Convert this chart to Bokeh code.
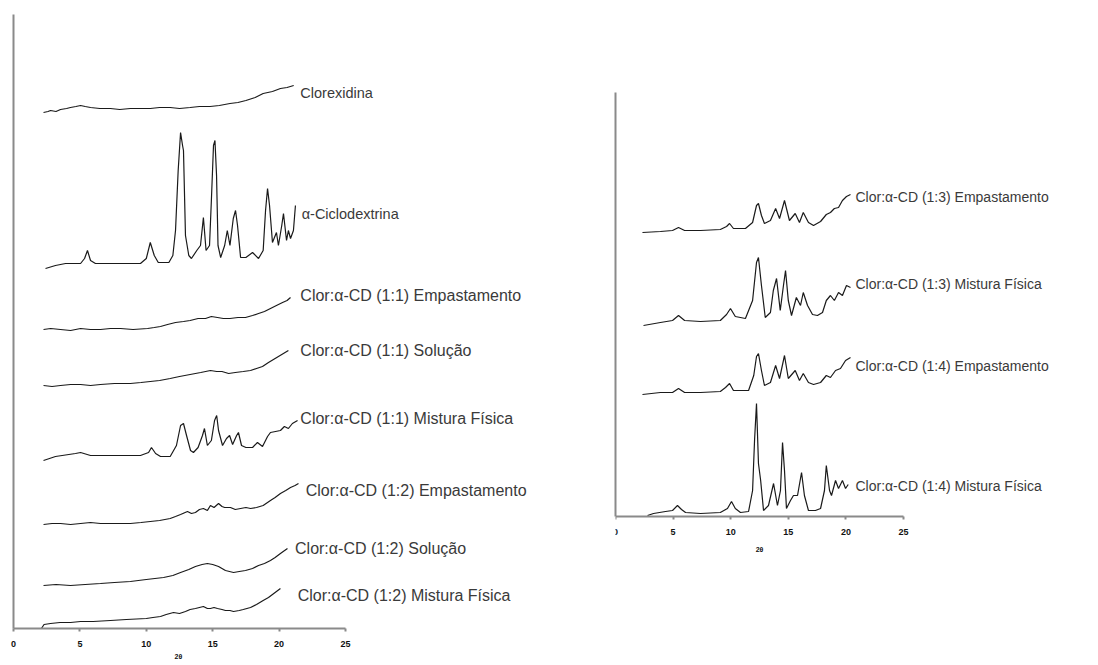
from bokeh.plotting import figure
from bokeh.layouts import row
from bokeh.models import Range1d, LinearAxis, FixedTicker, Label, Title
from bokeh.core.properties import value
from bokeh.embed import file_html
from bokeh.resources import INLINE

# ---------------- data (2theta, relative intensity, stacked) ----------------
# Left panel
clorex_x = [2.26, 2.6, 2.79, 3.2, 3.54, 4.0, 4.29, 4.7, 5.05, 5.4, 5.8, 6.5, 7.3, 8.0, 8.8, 9.5, 10.3, 11.0,
            11.8, 12.5, 13.3, 14.0, 14.8, 15.5, 16.3, 16.9, 17.5, 18.2, 18.8, 19.5, 20.1, 20.6, 21.1]
clorex_y = [516, 517, 518, 517, 519, 520, 521, 522, 523, 522, 521, 520, 520, 519, 520, 520, 520, 521,
            521, 520, 521, 522, 522, 523, 525, 526, 528, 531, 535, 537, 540, 541, 543]

acd_x = [2.41, 3.16, 3.92, 5.05, 5.35, 5.57, 5.8, 6.17, 8.06, 9.56, 10.0, 10.3, 10.6, 10.9, 11.7, 12.0,
         12.2, 12.4, 12.58, 12.73, 12.8, 12.95, 13.2, 13.4, 13.8, 14.08, 14.3, 14.5, 14.76, 14.9, 15.06,
         15.17, 15.29, 15.4, 15.6, 15.9, 16.1, 16.3, 16.55, 16.72, 16.87, 17.1, 17.5, 18.0, 18.45, 18.8,
         18.98, 19.13, 19.28, 19.5, 19.8, 19.95, 20.2, 20.33, 20.56, 20.7, 20.86, 21.08, 21.23]
acd_y = [360, 363, 365, 365, 370, 378, 368, 365, 365, 365, 370, 386, 373, 366, 366, 373,
         398, 458, 496, 483, 478, 393, 373, 370, 378, 383, 411, 378, 383, 428, 483,
         488, 453, 383, 371, 383, 398, 383, 410, 418, 403, 371, 371, 376, 370, 378,
         418, 440, 423, 386, 396, 383, 403, 415, 388, 398, 390, 398, 423]

e11_x = [2.26, 2.8, 3.54, 4.3, 5.05, 5.8, 6.55, 7.3, 8.06, 9.0, 10.1, 10.6, 11.07, 11.6, 12.2, 12.8, 13.3,
         13.9, 14.46, 14.9, 15.36, 15.8, 16.3, 16.9, 17.47, 18.0, 18.45, 18.9, 19.35, 19.8, 20.26, 20.6, 20.86]
e11_y = [299, 300, 299, 298, 300, 299, 299, 300, 300, 299, 300, 301, 302, 304, 306, 307, 308,
         310, 310, 312, 311, 310, 310, 311, 311, 313, 315, 317, 320, 323, 326, 328, 331]

s11_x = [2.26, 2.9, 3.54, 4.3, 5.05, 5.8, 6.55, 7.6, 8.8, 9.6, 10.3, 11.0, 11.8, 12.5, 13.3, 14.1, 14.83,
         15.3, 15.7, 16.2, 16.7, 17.3, 17.85, 18.3, 18.75, 19.2, 19.7, 20.2, 20.7]
s11_y = [243, 242, 243, 244, 244, 243, 244, 245, 245, 246, 247, 248, 250, 252, 254, 256, 258,
         257, 257, 255, 256, 257, 258, 260, 262, 266, 270, 274, 278]

m11_x = [2.26, 3.16, 4.67, 5.05, 5.8, 8.06, 9.56, 10.17, 10.39, 10.7, 11.07, 11.8, 12.27, 12.58, 12.8,
         13.03, 13.33, 13.55, 13.9, 14.23, 14.38, 14.6, 14.9, 15.14, 15.3, 15.44, 15.74, 16.04, 16.27,
         16.5, 16.8, 16.94, 17.17, 17.5, 18.0, 18.37, 18.75, 19.13, 19.35, 19.73, 20.1, 20.4, 20.7, 21.0, 21.39]
m11_y = [168, 172, 175, 176, 173, 173, 173, 176, 181, 175, 172, 172, 183, 203, 205,
         193, 178, 176, 181, 193, 200, 183, 188, 208, 213, 198, 183, 190, 193,
         184, 193, 196, 183, 181, 181, 186, 182, 192, 196, 197, 198, 202, 200, 205, 208]

e12_x = [2.26, 2.9, 3.54, 4.3, 5.05, 5.8, 6.55, 7.6, 8.8, 9.6, 10.3, 11.0, 11.8, 12.2, 12.58, 13.1, 13.4,
         13.7, 14.0, 14.3, 14.6, 14.83, 15.1, 15.44, 15.7, 15.9, 16.34, 16.7, 17.1, 17.5, 17.85, 18.3,
         18.8, 19.35, 19.7, 20.1, 20.5, 20.86, 21.2, 21.46]
e12_y = [104, 105, 105, 104, 105, 106, 105, 105, 105, 106, 107, 108, 110, 112, 114, 117, 115,
         116, 119, 120, 118, 123, 121, 125, 122, 121, 121, 119, 120, 121, 120, 121,
         123, 128, 131, 135, 138, 141, 143, 145]

s12_x = [2.26, 3.2, 4.29, 5.4, 6.55, 7.6, 8.8, 10.0, 11.3, 12.0, 12.58, 13.2, 13.7, 14.2, 14.6, 15.0,
         15.44, 15.96, 16.57, 17.0, 17.47, 18.0, 18.45, 18.9, 19.35, 19.7, 20.1, 20.63]
s12_y = [43, 44, 43, 44, 45, 46, 47, 49, 51, 53, 56, 59, 62, 64, 65, 64,
         62, 58, 56, 57, 58, 60, 63, 65, 68, 71, 75, 80]

m12_x = [2.1, 2.3, 2.79, 3.5, 4.3, 5.05, 6.0, 7.3, 8.5, 10.0, 10.5, 11.07, 11.5, 12.05, 12.5, 12.95,
         13.3, 13.7, 14.0, 14.3, 14.6, 14.83, 15.1, 15.36, 15.7, 15.96, 16.3, 16.57, 17.0, 17.3, 17.85,
         18.3, 18.8, 19.2, 19.5, 20.1]
m12_y = [0, 4, 5, 6, 6, 7, 7, 8, 9, 10, 11, 12, 14, 16, 15, 17,
         19, 20, 21, 22, 20, 20, 21, 20, 19, 18, 18, 17, 18, 19, 21,
         24, 28, 31, 34, 40]

# Right panel
e13_x = [2.34, 3.9, 4.95, 5.47, 6.0, 7.38, 9.1, 9.64, 9.9, 10.24, 11.28, 11.9, 12.24, 12.41, 12.67,
         12.93, 13.45, 13.9, 14.24, 14.67, 15.1, 15.6, 15.97, 16.3, 16.75, 17.19, 17.8, 18.3, 18.66,
         19.0, 19.36, 19.7, 20.05, 20.4]
e13_y = [284, 285, 286, 289, 286, 286, 287, 290, 293, 288, 288, 294, 311, 313, 301,
         293, 296, 308, 298, 316, 296, 303, 294, 304, 294, 291, 295, 302, 304,
         308, 309, 316, 320, 322]

m13_x = [2.43, 3.9, 4.95, 5.47, 6.0, 7.38, 9.1, 9.64, 9.98, 10.4, 11.28, 11.9, 12.24, 12.41, 12.67,
         13.0, 13.45, 13.7, 13.98, 14.3, 14.58, 14.76, 15.0, 15.28, 15.7, 16.06, 16.3, 16.67, 17.1,
         17.53, 17.97, 18.3, 18.66, 19.0, 19.36, 19.7, 20.05, 20.4]
m13_y = [191, 194, 196, 201, 196, 195, 196, 202, 208, 200, 198, 216, 254, 259, 231,
         199, 204, 226, 238, 206, 231, 246, 216, 201, 219, 211, 224, 211, 202,
         201, 204, 216, 221, 216, 224, 221, 231, 229]

e14_x = [2.34, 3.9, 4.95, 5.47, 6.0, 7.38, 9.1, 9.55, 9.9, 10.24, 11.55, 12.0, 12.24, 12.41, 12.67,
         12.93, 13.45, 13.9, 14.24, 14.67, 15.0, 15.6, 15.97, 16.3, 16.75, 17.19, 17.8, 18.3, 18.66,
         19.1, 19.53, 19.97, 20.4]
e14_y = [122, 124, 124, 128, 124, 124, 125, 129, 133, 126, 126, 141, 160, 163, 146,
         131, 134, 151, 138, 161, 138, 146, 136, 143, 134, 132, 134, 141, 139,
         146, 148, 156, 159]

m14_x = [2.78, 3.3, 4.34, 4.95, 5.38, 5.73, 6.08, 7.38, 9.1, 9.72, 10.07, 10.4, 10.85, 11.55, 11.9,
         12.07, 12.24, 12.41, 12.6, 12.85, 13.28, 13.72, 14.06, 14.32, 14.5, 14.67, 14.84, 15.19, 15.45,
         15.8, 16.15, 16.4, 16.75, 17.36, 17.8, 18.14, 18.3, 18.58, 18.75, 19.1, 19.36, 19.7, 19.97, 20.2]
m14_y = [1, 3, 5, 6, 11, 7, 4, 3, 4, 8, 15, 8, 4, 5, 26,
         76, 113, 53, 36, 6, 11, 33, 11, 26, 74, 46, 8, 16, 21,
         21, 44, 21, 6, 6, 8, 26, 51, 26, 21, 36, 28, 36, 28, 32]

left_series = [(clorex_x, clorex_y), (acd_x, acd_y), (e11_x, e11_y), (s11_x, s11_y),
               (m11_x, m11_y), (e12_x, e12_y), (s12_x, s12_y), (m12_x, m12_y)]
right_series = [(e13_x, e13_y), (m13_x, m13_y), (e14_x, e14_y), (m14_x, m14_y)]

pure_labels = ["Clorexidina", "\u03b1-Ciclodextrina"]
pure_label_x = [21.6, 21.7]
pure_label_y = [536, 415]

left_labels = ["Clor:\u03b1-CD (1:1) Empastamento", "Clor:\u03b1-CD (1:1) Solução",
               "Clor:\u03b1-CD (1:1) Mistura Física", "Clor:\u03b1-CD (1:2) Empastamento",
               "Clor:\u03b1-CD (1:2) Solução", "Clor:\u03b1-CD (1:2) Mistura Física"]
left_label_x = [21.6, 21.6, 21.6, 22.0, 21.2, 21.4]
left_label_y = [333, 278, 210, 138, 80, 33]

right_labels = ["Clor:\u03b1-CD (1:3) Empastamento", "Clor:\u03b1-CD (1:3) Mistura Física",
                "Clor:\u03b1-CD (1:4) Empastamento", "Clor:\u03b1-CD (1:4) Mistura Física"]
right_label_x = [20.83, 20.83, 20.83, 20.83]
right_label_y = [320, 233, 151, 31]

x_ticks = [0, 5, 10, 15, 20, 25]
x_title = "2\u03b8"

AX = "#8a8a8a"
FONT = "Liberation Sans"
TXT = "#3a3a3a"


def make_panel(width, xmax, ybottom, ytop, yaxis_top, left, series):
    p = figure(width=width, height=665, output_backend="svg", toolbar_location=None,
               x_range=Range1d(0, xmax), y_range=Range1d(ybottom, ytop),
               x_axis_type=None, y_axis_type=None,
               min_border_left=left, min_border_right=0, min_border_top=14,
               min_border_bottom=37)
    p.outline_line_color = None
    p.xgrid.visible = False
    p.ygrid.visible = False
    p.background_fill_color = "white"
    p.border_fill_color = "white"

    xa = LinearAxis(ticker=FixedTicker(ticks=x_ticks), bounds=(0, 25))
    if ybottom != 0:
        xa.fixed_location = 0
    xa.axis_line_color = AX
    xa.axis_line_width = 2
    xa.major_tick_line_color = AX
    xa.major_tick_line_width = 2
    xa.major_tick_out = 3
    xa.major_tick_in = 0
    xa.minor_tick_line_color = None
    xa.major_label_text_font = FONT
    xa.major_label_text_font_size = "9px"
    xa.major_label_text_font_style = "bold"
    xa.major_label_text_color = "#111111"
    xa.major_label_standoff = 9
    p.add_layout(xa, "below")

    ya = LinearAxis(ticker=FixedTicker(ticks=[]), bounds=(0, yaxis_top))
    ya.axis_line_color = AX
    ya.axis_line_width = 2
    ya.major_tick_line_color = None
    ya.minor_tick_line_color = None
    ya.major_tick_out = 0
    ya.major_tick_in = 0
    ya.major_label_text_font_size = "0px"
    ya.major_label_standoff = 0
    p.add_layout(ya, "left")

    for xs, ys in series:
        p.line(xs, ys, line_color="#1a1a1a", line_width=1.2)
    return p


left = make_panel(605, 592 / 13.28, 0, 614, 614, 13, left_series)
left.text(x=pure_label_x, y=pure_label_y, text=pure_labels, text_font=value(FONT),
          text_font_size="14.5px", text_color=TXT, text_baseline="middle", text_align="left")
left.text(x=left_label_x, y=left_label_y, text=left_labels, text_font=value(FONT),
          text_font_size="16px", text_color=TXT, text_baseline="middle", text_align="left")
left.add_layout(Title(text=x_title, align="left", offset=161, text_font=FONT, text_font_size="7px",
                      text_font_style="bold", text_color="#111111", standoff=2), "below")

right = make_panel(493, 483 / 11.52, -112, 502, 424, 10, right_series)
right.text(x=right_label_x, y=right_label_y, text=right_labels, text_font=value(FONT),
           text_font_size="14px", text_color=TXT, text_baseline="middle", text_align="left")
right.add_layout(Label(x=12.5, y=-33, text=x_title, text_font=FONT, text_font_size="7px",
                       text_font_style="bold", text_color="#111111",
                       text_align="center", text_baseline="middle"))

layout = row(left, right)
open("out.html", "w").write(file_html(layout, INLINE))
